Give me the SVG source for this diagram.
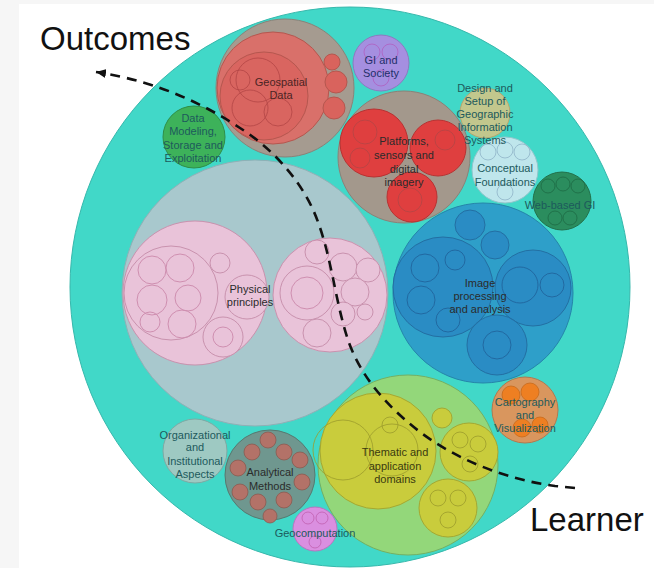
<svg xmlns="http://www.w3.org/2000/svg" width="654" height="568" viewBox="0 0 654 568">
<defs>
<style>
.lbl{font-family:"Liberation Sans",Arial,sans-serif;font-size:11px;text-anchor:middle}
.dk{fill:#2b2b2b}
.tl{fill:#1d5a5c}
.big{font-family:"Liberation Sans",Arial,sans-serif;font-size:33px;fill:#111}
.pk{fill:#e9c3d9;stroke:#c992ae;stroke-width:1}
.pk2{fill:none;stroke:#cf8fb0;stroke-width:1}
.rd{fill:#df3f3f;stroke:#b83232;stroke-width:1}
.rd2{fill:none;stroke:#b34545;stroke-width:0.8}
.bl{fill:#2a86c2;stroke:#236fa3;stroke-width:1;fill-opacity:0.75}
.bl2{fill:none;stroke:#1f5f98;stroke-width:0.8}
.yl{fill:#c9cc3c;stroke:#a4a832;stroke-width:1}
.yl2{fill:none;stroke:#9c9c2c;stroke-width:0.8}
.br{fill:#b37268;stroke:#8a5a50;stroke-width:0.8}
.conn{fill:none;stroke:#111;stroke-width:2.6;stroke-dasharray:10 7}
</style>
<marker id="arr" markerUnits="userSpaceOnUse" markerWidth="12" markerHeight="10" refX="10" refY="5" orient="auto">
<path d="M0,5 L10,0.5 L10,9.5 z" transform="rotate(180 5 5)" fill="#111"/>
</marker>
</defs>
<rect x="0" y="0" width="654" height="568" fill="#ffffff"/>
<rect x="0" y="0" width="19" height="568" fill="#f6f6f6"/>
<rect x="0" y="0" width="654" height="4" fill="#f6f6f6"/>

<g id="root">
<circle cx="350" cy="287" r="280" fill="#41d8c8" stroke="#36b8ac" stroke-width="1"/>
</g>

<g id="geospatial-data">
<circle cx="285" cy="88" r="69" fill="#a59b90" stroke="#8a8278"/>
<circle cx="273" cy="88" r="56" fill="#d9706a" stroke="#b5574f"/>
<circle cx="264" cy="96" r="44" fill="#d96560" stroke="#b5574f"/>
<circle cx="258" cy="80" r="22" class="rd2"/>
<circle cx="250" cy="108" r="18" class="rd2"/>
<circle cx="278" cy="112" r="14" class="rd2"/>
<circle cx="240" cy="80" r="10" class="rd2"/>
<circle cx="332" cy="62" r="8" fill="#d9635d" stroke="#b5574f"/>
<circle cx="336" cy="82" r="11" fill="#d9635d" stroke="#b5574f"/>
<circle cx="334" cy="108" r="11" fill="#d9635d" stroke="#b5574f"/>
<text class="lbl" x="281" y="86" fill="#4a2424">Geospatial</text>
<text class="lbl" x="281" y="99" fill="#4a2424">Data</text>
</g>

<g id="gi-and-society">
<circle cx="381" cy="63" r="28" fill="#a58fe0" stroke="#8c7ac0"/>
<circle cx="372" cy="52" r="8" fill="none" stroke="#b060c0" stroke-width="0.8"/>
<circle cx="390" cy="52" r="8" fill="none" stroke="#b060c0" stroke-width="0.8"/>
<circle cx="381" cy="78" r="8" fill="none" stroke="#b060c0" stroke-width="0.8"/>
<text class="lbl" x="381" y="64" fill="#1f2f6a">GI and</text>
<text class="lbl" x="381" y="77" fill="#1f2f6a">Society</text>
</g>

<g id="platforms">
<circle cx="404" cy="157" r="66" fill="#a3988c" stroke="#8a8278"/>
<circle cx="374" cy="143" r="34" class="rd"/>
<circle cx="438" cy="148" r="28" class="rd"/>
<circle cx="412" cy="197" r="25" class="rd"/>
<circle cx="365" cy="132" r="12" class="rd2"/>
<circle cx="360" cy="158" r="10" class="rd2"/>
<circle cx="445" cy="140" r="10" class="rd2"/>
<circle cx="410" cy="200" r="12" class="rd2"/>
<text class="lbl dk" x="404" y="145">Platforms,</text>
<text class="lbl dk" x="404" y="159">sensors and</text>
<text class="lbl dk" x="404" y="173">digital</text>
<text class="lbl dk" x="404" y="186">imagery</text>
</g>

<g id="conceptual-foundations">
<circle cx="505" cy="170" r="33" fill="#bfe6ec" stroke="#92c6cc"/>
<circle cx="488" cy="152" r="8" fill="none" stroke="#8fb4c8" stroke-width="0.8"/>
<circle cx="505" cy="150" r="8" fill="none" stroke="#8fb4c8" stroke-width="0.8"/>
<circle cx="522" cy="152" r="8" fill="none" stroke="#8fb4c8" stroke-width="0.8"/>
<circle cx="505" cy="192" r="8" fill="none" stroke="#8fb4c8" stroke-width="0.8"/>
<text class="lbl tl" x="505" y="172">Conceptual</text>
<text class="lbl tl" x="505" y="186">Foundations</text>
</g>

<g id="design-setup">
<circle cx="485" cy="113" r="25" fill="#d9c483" fill-opacity="0.85" stroke="#b7a66e"/>
<text class="lbl tl" x="485" y="92">Design and</text>
<text class="lbl tl" x="485" y="105">Setup of</text>
<text class="lbl tl" x="485" y="118">Geographic</text>
<text class="lbl tl" x="485" y="131">Information</text>
<text class="lbl tl" x="485" y="144">Systems</text>
</g>

<g id="web-based-gi">
<circle cx="562" cy="201" r="29" fill="#2b8d5e" stroke="#22704a"/>
<circle cx="548" cy="186" r="7" fill="none" stroke="#1d6a44" stroke-width="0.8"/>
<circle cx="563" cy="184" r="7" fill="none" stroke="#1d6a44" stroke-width="0.8"/>
<circle cx="578" cy="186" r="7" fill="none" stroke="#1d6a44" stroke-width="0.8"/>
<circle cx="555" cy="218" r="7" fill="none" stroke="#1d6a44" stroke-width="0.8"/>
<circle cx="570" cy="218" r="7" fill="none" stroke="#1d6a44" stroke-width="0.8"/>
<text class="lbl tl" x="560" y="209">Web-based GI</text>
</g>

<g id="data-modeling">
<circle cx="194" cy="137" r="31" fill="#3db25a" stroke="#2f8e48"/>
<text class="lbl tl" x="193" y="122">Data</text>
<text class="lbl tl" x="193" y="135">Modeling,</text>
<text class="lbl tl" x="193" y="149">Storage and</text>
<text class="lbl tl" x="193" y="162">Exploitation</text>
</g>

<g id="physical-principles">
<circle cx="255" cy="293" r="133" fill="#a8c8cd" stroke="#8fb0b6"/>
<circle cx="195" cy="293" r="72" class="pk"/>
<circle cx="330" cy="295" r="57" class="pk"/>
<circle cx="171" cy="293" r="47" class="pk"/>
<circle cx="152" cy="270" r="14" class="pk2"/>
<circle cx="180" cy="268" r="14" class="pk2"/>
<circle cx="152" cy="300" r="15" class="pk2"/>
<circle cx="188" cy="298" r="13" class="pk2"/>
<circle cx="182" cy="324" r="14" class="pk2"/>
<circle cx="150" cy="322" r="10" class="pk2"/>
<circle cx="247" cy="297" r="22" class="pk"/>
<circle cx="223" cy="337" r="20" class="pk"/>
<circle cx="220" cy="263" r="10" class="pk"/>
<circle cx="223" cy="337" r="10" class="pk2"/>
<circle cx="307" cy="293" r="27" class="pk"/>
<circle cx="307" cy="293" r="16" class="pk2"/>
<circle cx="317" cy="252" r="12" class="pk"/>
<circle cx="343" cy="267" r="14" class="pk"/>
<circle cx="368" cy="270" r="12" class="pk"/>
<circle cx="355" cy="292" r="14" class="pk"/>
<circle cx="343" cy="314" r="12" class="pk"/>
<circle cx="365" cy="312" r="8" class="pk"/>
<circle cx="317" cy="333" r="14" class="pk"/>
<text class="lbl dk" x="250" y="293">Physical</text>
<text class="lbl dk" x="250" y="306">principles</text>
</g>

<g id="image-processing">
<circle cx="483" cy="293" r="90" fill="#2e9fc9" stroke="#2585aa"/>
<circle cx="443" cy="287" r="50" class="bl"/>
<circle cx="533" cy="288" r="38" class="bl"/>
<circle cx="497" cy="345" r="30" class="bl"/>
<circle cx="470" cy="225" r="15" class="bl"/>
<circle cx="495" cy="245" r="14" class="bl"/>
<circle cx="425" cy="268" r="14" class="bl2"/>
<circle cx="421" cy="300" r="14" class="bl2"/>
<circle cx="448" cy="320" r="12" class="bl2"/>
<circle cx="455" cy="260" r="10" class="bl2"/>
<circle cx="520" cy="285" r="18" class="bl2"/>
<circle cx="552" cy="285" r="12" class="bl2"/>
<circle cx="497" cy="345" r="14" class="bl2"/>
<text class="lbl dk" x="480" y="287">Image</text>
<text class="lbl dk" x="480" y="300">processing</text>
<text class="lbl dk" x="480" y="313">and analysis</text>
</g>

<g id="cartography">
<circle cx="525" cy="410" r="33" fill="#d9965e" stroke="#b07a50"/>
<circle cx="511" cy="395" r="9" fill="#ee7f22" stroke="#c86a1c" stroke-width="0.8"/>
<circle cx="530" cy="392" r="9" fill="#ee7f22" stroke="#c86a1c" stroke-width="0.8"/>
<circle cx="522" cy="428" r="9" fill="#ee7f22" stroke="#c86a1c" stroke-width="0.8"/>
<circle cx="540" cy="425" r="8" fill="#ee7f22" stroke="#c86a1c" stroke-width="0.8"/>
<text class="lbl tl" x="525" y="406">Cartography</text>
<text class="lbl tl" x="525" y="419">and</text>
<text class="lbl tl" x="525" y="432">Visualization</text>
</g>

<g id="thematic">
<circle cx="408" cy="465" r="90" fill="#93d77a" stroke="#74b062"/>
<circle cx="378" cy="451" r="58" class="yl"/>
<circle cx="343" cy="450" r="30" class="yl2"/>
<circle cx="392" cy="450" r="26" class="yl2"/>
<circle cx="469" cy="452" r="29" class="yl"/>
<circle cx="448" cy="508" r="29" class="yl"/>
<circle cx="442" cy="418" r="10" class="yl"/>
<circle cx="390" cy="425" r="8" class="yl2"/>
<circle cx="460" cy="440" r="8" class="yl2"/>
<circle cx="478" cy="444" r="8" class="yl2"/>
<circle cx="470" cy="464" r="8" class="yl2"/>
<circle cx="438" cy="498" r="8" class="yl2"/>
<circle cx="458" cy="498" r="8" class="yl2"/>
<circle cx="448" cy="520" r="8" class="yl2"/>
<text class="lbl" x="395" y="456" fill="#3a3a10">Thematic and</text>
<text class="lbl" x="395" y="470" fill="#3a3a10">application</text>
<text class="lbl" x="395" y="483" fill="#3a3a10">domains</text>
</g>

<g id="organizational">
<circle cx="195" cy="451" r="32" fill="#9ec9c2" stroke="#7fa9a3"/>
<text class="lbl tl" x="195" y="439">Organizational</text>
<text class="lbl tl" x="195" y="451">and</text>
<text class="lbl tl" x="195" y="465">Institutional</text>
<text class="lbl tl" x="195" y="478">Aspects</text>
</g>

<g id="analytical-methods">
<circle cx="270" cy="475" r="45" fill="#6f978f" stroke="#56786f"/>
<circle cx="268" cy="440" r="8" class="br"/>
<circle cx="252" cy="452" r="8" class="br"/>
<circle cx="284" cy="452" r="8" class="br"/>
<circle cx="300" cy="460" r="8" class="br"/>
<circle cx="238" cy="468" r="8" class="br"/>
<circle cx="302" cy="482" r="8" class="br"/>
<circle cx="240" cy="492" r="8" class="br"/>
<circle cx="258" cy="502" r="8" class="br"/>
<circle cx="284" cy="500" r="8" class="br"/>
<circle cx="270" cy="516" r="7" class="br"/>
<text class="lbl dk" x="270" y="476">Analytical</text>
<text class="lbl dk" x="270" y="490">Methods</text>
</g>

<g id="geocomputation">
<circle cx="315" cy="529" r="22" fill="#da8fe0" stroke="#b874c0"/>
<circle cx="308" cy="518" r="6" fill="none" stroke="#c060b0" stroke-width="0.8"/>
<circle cx="322" cy="518" r="6" fill="none" stroke="#c060b0" stroke-width="0.8"/>
<circle cx="315" cy="542" r="6" fill="none" stroke="#c060b0" stroke-width="0.8"/>
<text class="lbl tl" x="315" y="537">Geocomputation</text>
</g>

<g id="connectors">
<path class="conn" marker-end="url(#arr)" d="M575,488 L555,486 C510,480 460,462 420,432 C385,405 360,375 348,340 C335,300 332,260 318,222 C305,185 275,150 240,128 C205,105 160,82 96,72"/>
</g>

<text class="big" x="40" y="50">Outcomes</text>
<text class="big" x="530" y="531">Learner</text>
</svg>
